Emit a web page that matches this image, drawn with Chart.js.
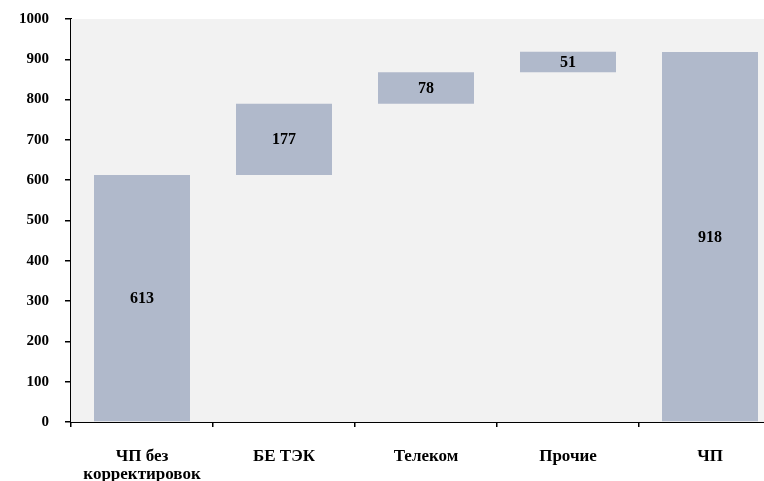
<!DOCTYPE html>
<html>
<head>
<meta charset="utf-8">
<script src="https://cdn.jsdelivr.net/npm/chart.js@4/dist/chart.umd.min.js"></script>
<style>
  html, body { margin: 0; padding: 0; background: #fff; overflow: hidden; }
  #wrap { width: 800px; height: 481px; position: relative; }
</style>
</head>
<body>
<div id="wrap"><canvas id="waterfall"></canvas></div>
<script>
// Waterfall: net profit bridge
const categories = [['ЧП без', 'корректировок'], 'БЕ ТЭК', 'Телеком', 'Прочие', 'ЧП'];
const values = [613, 177, 78, 51, 918];
const isTotal = [true, false, false, false, true];
const yTicks = [0, 100, 200, 300, 400, 500, 600, 700, 800, 900, 1000];

const barColor = '#b0b9cb';
const plotBg = '#f2f2f2';
const fontFamily = '"Liberation Serif", "Times New Roman", serif';

// build floating bar ranges from the values
function buildRanges() {
  const out = [];
  let running = 0;
  values.forEach(function(v, i) {
    if (isTotal[i]) {
      out.push([0, v]);
      running = v;
    } else {
      out.push([running, running + v]);
      running += v;
    }
  });
  return out;
}

// grey plot area behind the bars
const plotBackground = {
  id: 'plotBackground',
  beforeDatasetsDraw(chart) {
    const a = chart.chartArea;
    const ctx = chart.ctx;
    ctx.save();
    ctx.fillStyle = plotBg;
    ctx.fillRect(a.left, a.top, a.right - a.left, a.bottom - a.top);
    ctx.restore();
  }
};

// value labels centred in each bar
const barLabels = {
  id: 'barLabels',
  afterDatasetsDraw(chart) {
    const ctx = chart.ctx;
    const meta = chart.getDatasetMeta(0);
    ctx.save();
    ctx.font = 'bold 16px ' + fontFamily;
    ctx.fillStyle = '#000';
    ctx.textAlign = 'center';
    ctx.textBaseline = 'middle';
    meta.data.forEach(function(bar, i) {
      const p = bar.getProps(['x', 'y', 'base'], true);
      ctx.fillText(String(values[i]), p.x, (p.y + p.base) / 2 + 1);
    });
    ctx.restore();
  }
};

function initWaterfall() {
  const ctx = document.getElementById('waterfall');
  new Chart(ctx, {
    type: 'bar',
    data: {
      labels: categories,
      datasets: [{
        data: buildRanges(),
        backgroundColor: barColor,
        borderWidth: 0,
        borderSkipped: false,
        categoryPercentage: 1,
        barPercentage: 0.676
      }]
    },
    options: {
      responsive: true,
      maintainAspectRatio: false,
      animation: false,
      layout: { padding: { top: 19, right: 19, left: 0, bottom: 0 } },
      scales: {
        y: {
          min: 0,
          max: 1000,
          afterBuildTicks: function(scale) {
            scale.ticks = yTicks.map(function(v) { return { value: v }; });
          },
          afterFit: function(scale) {
            scale.width = 71;
            scale.paddingTop = 0;
            scale.paddingBottom = 0;
          },
          border: { display: true, color: '#000', width: 2 },
          grid: { drawOnChartArea: false, drawTicks: true, tickLength: 6, color: '#000', lineWidth: 1.5 },
          ticks: {
            color: '#000',
            padding: 16,
            callback: function(v) { return String(v); },
            font: { family: fontFamily, size: 15, weight: 'bold' }
          }
        },
        x: {
          afterFit: function(scale) { scale.height = 59; },
          border: { display: true, color: '#000', width: 2 },
          grid: { offset: true, drawOnChartArea: false, drawTicks: true, tickLength: 5, color: '#000', lineWidth: 1.5 },
          ticks: {
            color: '#000',
            padding: 21,
            maxRotation: 0,
            autoSkip: false,
            font: { family: fontFamily, size: 17, weight: 'bold', lineHeight: 1.04 }
          }
        }
      },
      plugins: {
        legend: { display: false },
        tooltip: { enabled: false }
      }
    },
    plugins: [plotBackground, barLabels]
  });
}

document.addEventListener('DOMContentLoaded', initWaterfall);
</script>
</body>
</html>
